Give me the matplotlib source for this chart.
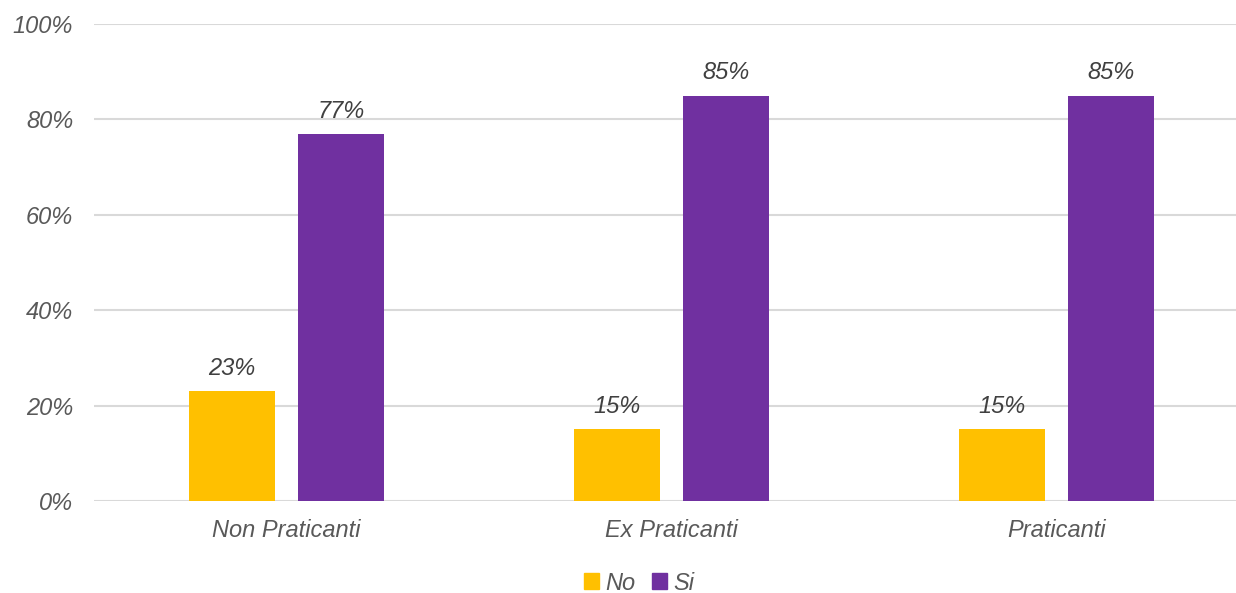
import numpy as np
from matplotlib import pyplot as plt
from matplotlib.patches import Patch

categories = ["Non Praticanti", "Ex Praticanti", "Praticanti"]
no_values = [23, 15, 15]
si_values = [77, 85, 85]
series_names = ["No", "Si"]
y_ticks = [0, 20, 40, 60, 80, 100]

YELLOW = "#FFC000"
PURPLE = "#7030A0"
TEXT = "#595959"
GRID = "#D9D9D9"

plt.rcParams['font.family'] = ['Liberation Sans', 'DejaVu Sans']
plt.rcParams['font.style'] = 'italic'

fig = plt.figure(figsize=(12.36, 5.93), dpi=100)
ax = fig.add_axes([94 / 1236, 1 - 501 / 593, 1155 / 1236, 477 / 593])

x = np.arange(len(categories))
width = 0.223
offset = 0.1425

bars_no = ax.bar(x - offset, no_values, width, color=YELLOW, zorder=3)
bars_si = ax.bar(x + offset, si_values, width, color=PURPLE, zorder=3)

# value labels on top of every bar
for bars in (bars_no, bars_si):
    for b in bars:
        h = b.get_height()
        ax.annotate(f"{h:.0f}%", (b.get_x() + b.get_width() / 2, h),
                    xytext=(0, 8), textcoords="offset points",
                    ha="center", va="bottom", fontsize=17, color="#404040")

ax.set_xlim(-0.5, 2.5)
ax.set_ylim(0, 100)
ax.set_yticks(y_ticks)
ax.set_yticklabels([f"{t}%" for t in y_ticks])
ax.set_xticks(x)
ax.set_xticklabels(categories)
ax.tick_params(axis="both", length=0, labelsize=17, labelcolor=TEXT)
ax.tick_params(axis="y", pad=15)
ax.tick_params(axis="x", pad=13)

ax.yaxis.grid(True, color=GRID, linewidth=1.5, zorder=0)
for s in ax.spines.values():
    s.set_visible(False)

handles = [Patch(color=YELLOW), Patch(color=PURPLE)]
fig.legend(handles, series_names, loc="center", bbox_to_anchor=(639 / 1236, 1 - 583 / 593),
           ncol=2, frameon=False, fontsize=17, labelcolor=TEXT,
           handlelength=0.65, handleheight=0.65, handletextpad=0.25, columnspacing=0.7)

plt.savefig("out.png", dpi=100)
plt.close()
